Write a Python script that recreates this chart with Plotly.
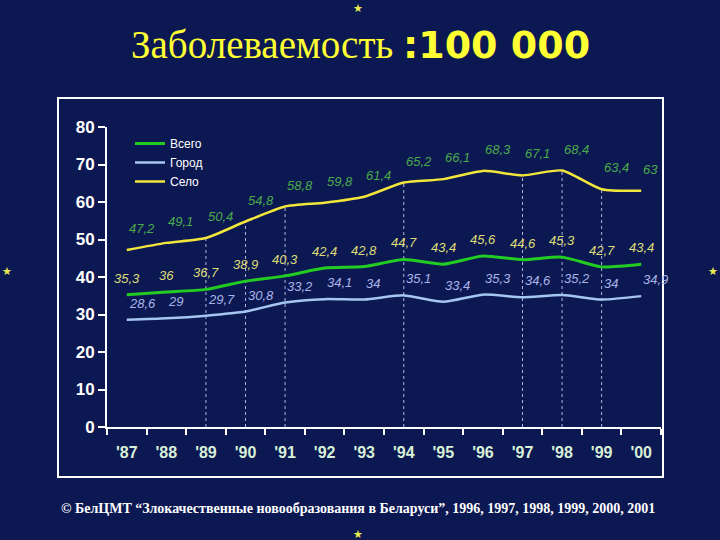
import plotly.graph_objects as go

years = ["'87", "'88", "'89", "'90", "'91", "'92", "'93", "'94", "'95", "'96", "'97", "'98", "'99", "'00"]
selo = [47.2, 49.1, 50.4, 54.8, 58.8, 59.8, 61.4, 65.2, 66.1, 68.3, 67.1, 68.4, 63.4, 63]
vsego = [35.3, 36, 36.7, 38.9, 40.3, 42.4, 42.8, 44.7, 43.4, 45.6, 44.6, 45.3, 42.7, 43.4]
gorod = [28.6, 29, 29.7, 30.8, 33.2, 34.1, 34, 35.1, 33.4, 35.3, 34.6, 35.2, 34, 34.9]
drop_years = ["'89", "'90", "'91", "'94", "'97", "'98", "'99"]
y_ticks = [0, 10, 20, 30, 40, 50, 60, 70, 80]

W, H = 720, 540
L, R, T, B = 107, 661, 127, 427  # plot area in px


def px_x(p):
    return (p - L) / (R - L)


def px_y(p):
    return (B - p) / (B - T)


def fmt(v):
    return ('%g' % v).replace('.', ',')


BG = '#0c1852'
fig = go.Figure()

series = [
    ("Всего", vsego, '#22cc22', 3),
    ("Город", gorod, '#a6c6f2', 2.5),
    ("Село", selo, '#f2e63c', 2.5),
]
for name, vals, col, w in series:
    fig.add_trace(go.Scatter(x=years, y=vals, mode='lines', name=name,
                             line=dict(color=col, width=w, shape='spline', smoothing=0.6)))

label_font = 'Liberation Sans'
label_specs = [
    (selo, '#4aaa4a', 'left', 12),
    (vsego, '#dedc78', 'center', 7),
    (gorod, '#aab4e8', 'left', 7),
]

annotations = []
for vals, col, xa, ys in label_specs:
    for i, yr in enumerate(years):
        annotations.append(dict(x=i, y=vals[i], xref='x', yref='y', text=fmt(vals[i]),
                                showarrow=False, xanchor=xa, yanchor='bottom',
                                xshift=0, yshift=ys,
                                font=dict(family=label_font, size=13, color=col, style='italic')))

# title
annotations.append(dict(xref='paper', yref='paper', x=px_x(360), y=px_y(45), showarrow=False,
                        xanchor='center', yanchor='middle',
                        text="<span style='font-family:Liberation Serif;font-size:39px'>Заболеваемость</span> "
                             "<span style='font-family:DejaVu Sans;font-size:38px'><b>:100 000</b></span>",
                        font=dict(color='#ffff33', size=39, family='Liberation Serif')))
# footer
annotations.append(dict(xref='paper', yref='paper', x=px_x(358), y=px_y(508), showarrow=False,
                        xanchor='center', yanchor='middle',
                        text="<b>© БелЦМТ “Злокачественные новообразования в Беларуси”, 1996, 1997, 1998, 1999, 2000, 2001</b>",
                        font=dict(color='white', size=14, family='Liberation Serif')))
# stars
for sx, sy in [(358, 8), (7, 270), (713, 270), (358, 533)]:
    annotations.append(dict(xref='paper', yref='paper', x=px_x(sx), y=px_y(sy), showarrow=False,
                            xanchor='center', yanchor='middle', text='★',
                            font=dict(color='#e8e850', size=11)))

shapes = []
# dotted drop lines from Село values
for yr in drop_years:
    idx = years.index(yr)
    shapes.append(dict(type='line', xref='x', yref='y', x0=idx, x1=idx, y0=0, y1=selo[idx],
                       line=dict(color='rgba(220,220,255,0.8)', width=1, dash='dot'), layer='below'))
# frame
shapes.append(dict(type='rect', xref='paper', yref='paper', x0=px_x(58), x1=px_x(663),
                   y0=px_y(477), y1=px_y(98), line=dict(color='white', width=2)))

fig.update_layout(
    width=W, height=H,
    margin=dict(l=L, r=W - R, t=T, b=H - B),
    paper_bgcolor=BG, plot_bgcolor=BG,
    showlegend=True,
    legend=dict(x=px_x(130), y=px_y(129), xanchor='left', yanchor='top',
                bgcolor='rgba(0,0,0,0)', font=dict(color='white', size=12, family='Liberation Sans'),
                tracegroupgap=0, itemwidth=30),
    annotations=annotations,
    shapes=shapes,
    xaxis=dict(type='category', tickson='boundaries', ticks='outside', ticklen=6, tickwidth=2,
               tickcolor='white', showline=True, linecolor='white', linewidth=2, showgrid=False,
               zeroline=False, range=[-0.5, len(years) - 0.5], ticklabelstandoff=10,
               tickfont=dict(color='#d8f0d8', size=16, family='Liberation Sans', weight='bold')),
    yaxis=dict(range=[0, 80], tickvals=y_ticks, ticks='outside', ticklen=7, tickwidth=2,
               tickcolor='white', showline=True, linecolor='white', linewidth=2, showgrid=False,
               zeroline=False,
               tickfont=dict(color='white', size=17, family='Liberation Sans', weight='bold')),
)

fig.write_html("out.html")
